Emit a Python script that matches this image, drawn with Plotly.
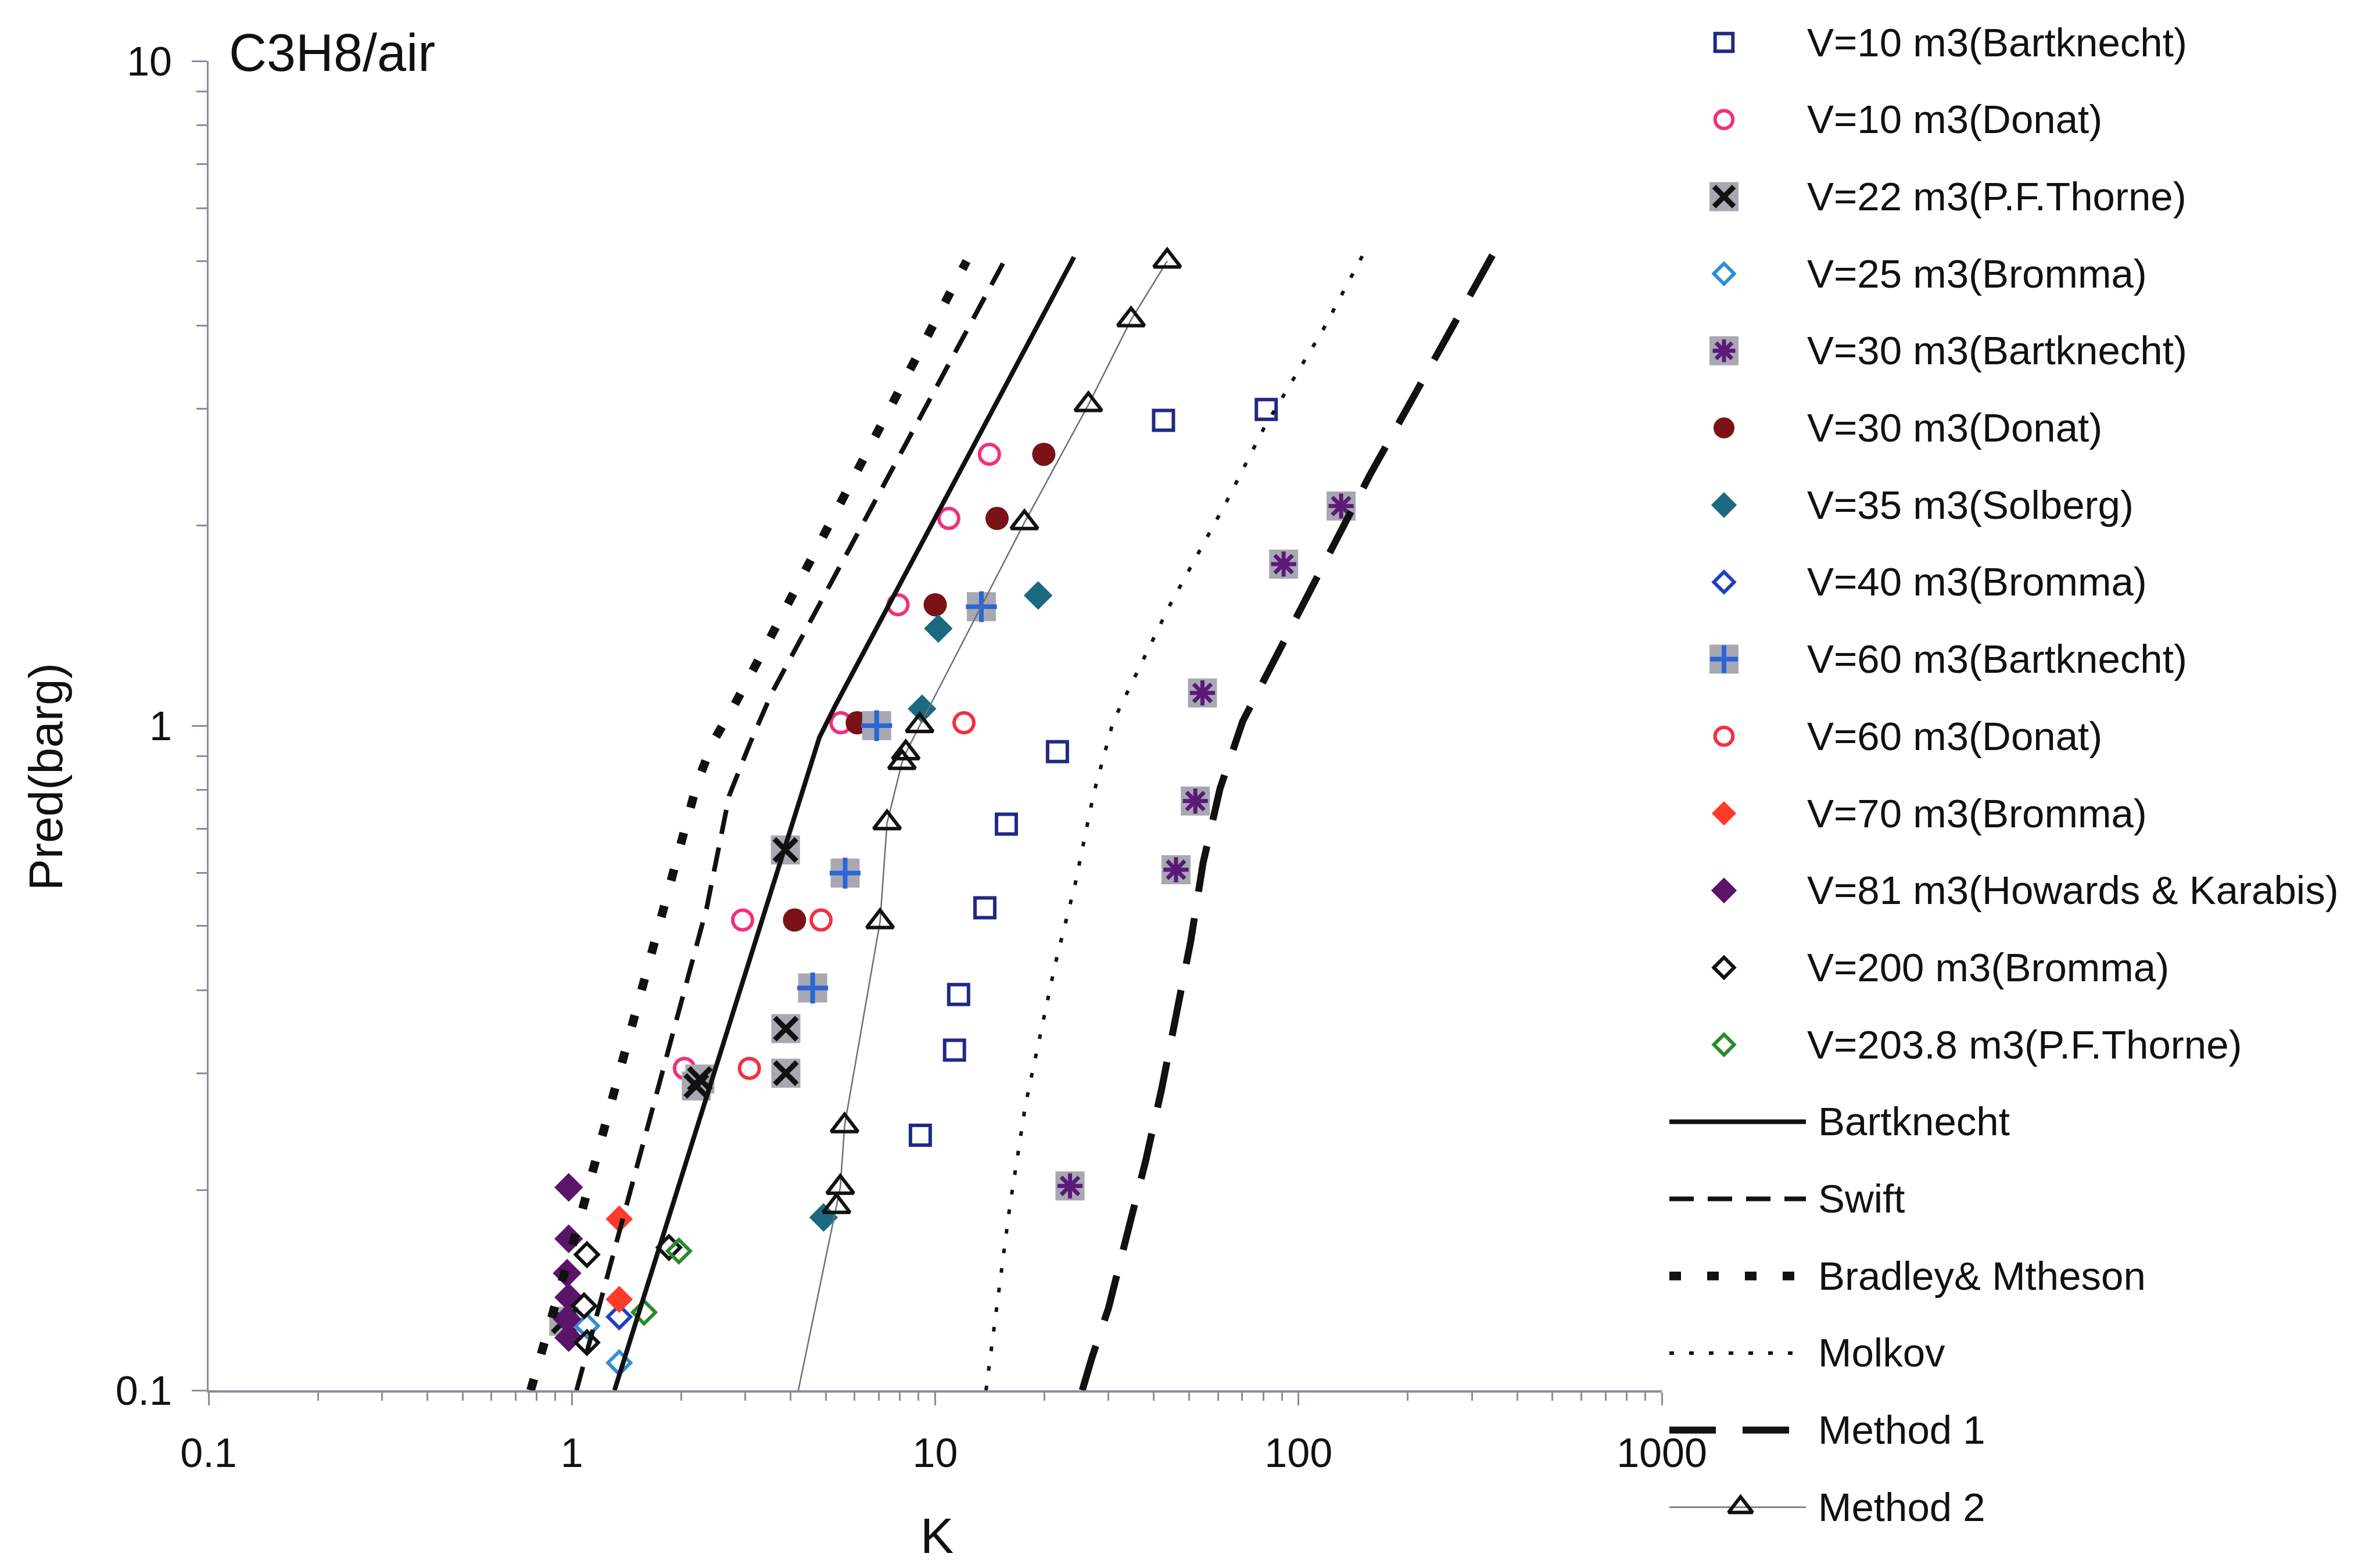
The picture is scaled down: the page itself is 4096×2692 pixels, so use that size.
import plotly.graph_objects as go

# ---------------- measured data: vent parameter K vs. reduced pressure Pred (barg) ----------------
series_names = [
    "V=10 m3(Bartknecht)", "V=10 m3(Donat)", "V=22 m3(P.F.Thorne)", "V=25 m3(Bromma)",
    "V=30 m3(Bartknecht)", "V=30 m3(Donat)", "V=35 m3(Solberg)", "V=40 m3(Bromma)",
    "V=60 m3(Bartknecht)", "V=60 m3(Donat)", "V=70 m3(Bromma)",
    "V=81 m3(Howards & Karabis)", "V=200 m3(Bromma)", "V=203.8 m3(P.F.Thorne)",
]
curve_names = ["Bartknecht", "Swift", "Bradley& Mtheson", "Molkov", "Method 1", "Method 2"]

v10_bartknecht_k = [42.5, 81.5, 21.7, 15.7, 13.7, 11.6, 11.3, 9.1]
v10_bartknecht_p = [2.88, 2.99, 0.914, 0.711, 0.532, 0.394, 0.325, 0.242]

v10_donat_k = [14.1, 10.9, 7.9, 5.5, 2.95, 2.04]
v10_donat_p = [2.56, 2.05, 1.52, 1.01, 0.51, 0.305]

v22_thorne_k = [3.87, 3.88, 3.88, 2.25, 2.2, 0.95]
v22_thorne_p = [0.65, 0.35, 0.30, 0.294, 0.287, 0.127]

v25_bromma_k = [1.1, 1.35]
v25_bromma_p = [0.125, 0.110]

v30_bartknecht_k = [131, 91, 54.4, 52, 46, 23.5]
v30_bartknecht_p = [2.14, 1.75, 1.12, 0.77, 0.607, 0.203]

v30_donat_k = [19.9, 14.8, 10.0, 6.1, 4.1]
v30_donat_p = [2.56, 2.05, 1.52, 1.01, 0.51]

v35_solberg_k = [19.2, 10.2, 9.2, 4.93]
v35_solberg_p = [1.57, 1.40, 1.06, 0.182]

v40_bromma_k = [1.35]
v40_bromma_p = [0.129]

v60_bartknecht_k = [13.4, 6.9, 5.65, 4.6]
v60_bartknecht_p = [1.51, 1.0, 0.60, 0.403]

v60_donat_k = [12.0, 4.85, 3.08]
v60_donat_p = [1.01, 0.51, 0.305]

v70_bromma_k = [1.35, 1.35]
v70_bromma_p = [0.181, 0.137]

v81_hk_k = [0.98, 0.98, 0.97, 0.98, 0.97, 0.98]
v81_hk_p = [0.202, 0.169, 0.150, 0.138, 0.128, 0.120]

v200_bromma_k = [1.1, 1.08, 1.1, 1.85]
v200_bromma_p = [0.160, 0.134, 0.118, 0.164]

v2038_thorne_k = [1.97, 1.58]
v2038_thorne_p = [0.162, 0.131]

# correlation curves
bartknecht_k = [1.31, 4.8, 5.3, 24.1]
bartknecht_p = [0.1, 0.96, 1.07, 5.07]

swift_k = [1.03, 1.83, 2.35, 2.71, 3.09, 3.55, 15.7]
swift_p = [0.1, 0.321, 0.532, 0.785, 0.94, 1.12, 5.07]

bradley_k = [0.77, 1.04, 1.81, 2.21, 2.44, 2.79, 3.55, 12.2]
bradley_p = [0.1, 0.177, 0.544, 0.819, 0.943, 1.07, 1.37, 5.0]

molkov_k = [13.8, 15.1, 16.0, 17.7, 19.7, 21.4, 24.3, 27.3, 30.9, 44.0, 63.3, 80.5, 116.8, 151]
molkov_p = [0.1, 0.145, 0.187, 0.268, 0.355, 0.438, 0.579, 0.79, 1.015, 1.51, 2.17, 2.81, 3.94, 5.13]

method1_k = [25.4, 27.0, 30.0, 33.9, 38.0, 42.0, 46.3, 50.5, 54.6, 60.8, 70.2, 90.3, 108, 129, 157, 345]
method1_p = [0.1, 0.112, 0.133, 0.173, 0.222, 0.284, 0.372, 0.474, 0.621, 0.804, 1.015, 1.33, 1.6, 1.95, 2.38, 5.15]

# first point is the foot of the curve; triangles mark the remaining points
method2_k = [4.2, 5.35, 5.48, 5.63, 7.05, 7.37, 8.1, 8.3, 9.06, 17.6, 26.4, 34.6, 43.5]
method2_p = [0.1, 0.189, 0.202, 0.250, 0.507, 0.714, 0.88, 0.91, 1.0, 2.02, 3.04, 4.08, 5.0]

x_tick_vals = [0.1, 1, 10, 100, 1000]
x_tick_text = ["0.1", "1", "10", "100", "1000"]
y_tick_vals = [0.1, 1, 10]
y_tick_text = ["0.1", "1", "10"]

# ---------------- geometry & styling ----------------
W, H = 4096, 2692
PLOT_L, PLOT_R, PLOT_T, PLOT_B = 359, 2860, 105, 2393
FONT = "Liberation Sans, Arial, Helvetica, sans-serif"
INK = "#111111"
AXIS_GREY = "#8c8c9a"
GREY_BOX = "#a8a8b2"

marker_data = [
    (v10_bartknecht_k, v10_bartknecht_p),
    (v10_donat_k, v10_donat_p),
    (v22_thorne_k, v22_thorne_p),
    (v25_bromma_k, v25_bromma_p),
    (v30_bartknecht_k, v30_bartknecht_p),
    (v30_donat_k, v30_donat_p),
    (v35_solberg_k, v35_solberg_p),
    (v40_bromma_k, v40_bromma_p),
    (v60_bartknecht_k, v60_bartknecht_p),
    (v60_donat_k, v60_donat_p),
    (v70_bromma_k, v70_bromma_p),
    (v81_hk_k, v81_hk_p),
    (v200_bromma_k, v200_bromma_p),
    (v2038_thorne_k, v2038_thorne_p),
]

# box=True draws a grey square behind the symbol
marker_styles = [
    dict(symbol="square-open", size=34, color="#1f2a86", lw=6),
    dict(symbol="circle-open", size=34, color="#f2307c", lw=6),
    dict(symbol="x-thin-open", size=38, color="#111111", lw=9, box=True),
    dict(symbol="diamond-open", size=30, color="#2f8fd2", lw=6),
    dict(symbol="asterisk-open", size=36, color="#5b1a78", lw=7, box=True),
    dict(symbol="circle", size=40, color="#7a1216", lw=0),
    dict(symbol="diamond", size=38, color="#1b6a80", lw=0),
    dict(symbol="diamond-open", size=30, color="#1f3fc0", lw=6),
    dict(symbol="cross-thin-open", size=38, color="#2a66d6", lw=8, box=True),
    dict(symbol="circle-open", size=34, color="#f23040", lw=6),
    dict(symbol="diamond", size=36, color="#ff3b2c", lw=0),
    dict(symbol="diamond", size=38, color="#5a1468", lw=0),
    dict(symbol="diamond-open", size=30, color="#111111", lw=6),
    dict(symbol="diamond-open", size=30, color="#2a8a2a", lw=6),
]

curve_data = [
    (bartknecht_k, bartknecht_p),
    (swift_k, swift_p),
    (bradley_k, bradley_p),
    (molkov_k, molkov_p),
    (method1_k, method1_p),
    (method2_k, method2_p),
]
curve_styles = [
    dict(color="#111111", width=8, dash="solid"),
    dict(color="#111111", width=8, dash="42px,24px"),
    dict(color="#111111", width=15, dash="20px,45px"),
    dict(color="#111111", width=6, dash="8px,26px"),
    dict(color="#111111", width=12, dash="80px,46px"),
    dict(color="#6e6e78", width=2.5, dash="solid"),
]
TRIANGLE = dict(symbol="triangle-up-open", size=40, color="#111111", line=dict(width=6, color="#111111"))
BOX_SIZE = 50


def marker_traces(k, p, st, xaxis="x", yaxis="y"):
    out = []
    if st.get("box"):
        out.append(go.Scatter(x=k, y=p, mode="markers", xaxis=xaxis, yaxis=yaxis,
                              marker=dict(symbol="square", size=BOX_SIZE, color=GREY_BOX,
                                          line=dict(width=0)),
                              showlegend=False, hoverinfo="skip"))
    out.append(go.Scatter(x=k, y=p, mode="markers", xaxis=xaxis, yaxis=yaxis,
                          marker=dict(symbol=st["symbol"], size=st["size"], color=st["color"],
                                      line=dict(width=st["lw"], color=st["color"])),
                          showlegend=False))
    return out


fig = go.Figure()

# measured points
for name, (k, p), st in zip(series_names, marker_data, marker_styles):
    for tr in marker_traces(k, p, st):
        tr.name = name
        fig.add_trace(tr)

# correlation curves
for name, (k, p), st in zip(curve_names, curve_data, curve_styles):
    fig.add_trace(go.Scatter(x=k, y=p, mode="lines", name=name, showlegend=False,
                             line=dict(color=st["color"], width=st["width"], dash=st["dash"])))
fig.add_trace(go.Scatter(x=method2_k[1:], y=method2_p[1:], mode="markers", name="Method 2",
                         showlegend=False, marker=TRIANGLE))

# ---------------- key panel on an auxiliary pixel-scaled axis ----------------
LEG_ROW0, LEG_STEP = 73, 132.7
LEG_MARK_X = 2967
LEG_LINE_X0, LEG_LINE_X1 = 2873, 3108
LEG_TEXT_X_MARK, LEG_TEXT_X_LINE = 3108, 3127
LEG_FONT = 69

annotations = []
for i, (name, st) in enumerate(zip(series_names, marker_styles)):
    yy = LEG_ROW0 + LEG_STEP * i
    key_st = dict(st, size=st["size"] * 0.9)
    for tr in marker_traces([LEG_MARK_X], [yy], key_st, "x2", "y2"):
        fig.add_trace(tr)
    annotations.append(dict(x=LEG_TEXT_X_MARK, y=yy, xref="x2", yref="y2", text=name,
                            showarrow=False, xanchor="left", yanchor="middle",
                            font=dict(family=FONT, size=LEG_FONT, color=INK)))

for j, (name, st) in enumerate(zip(curve_names, curve_styles)):
    yy = LEG_ROW0 + LEG_STEP * (len(series_names) + j)
    fig.add_trace(go.Scatter(x=[LEG_LINE_X0, LEG_LINE_X1], y=[yy, yy], mode="lines",
                             xaxis="x2", yaxis="y2", showlegend=False, hoverinfo="skip",
                             line=dict(color=st["color"], width=st["width"], dash=st["dash"])))
    if name == "Method 2":
        fig.add_trace(go.Scatter(x=[(LEG_LINE_X0 + LEG_LINE_X1) / 2 + 5], y=[yy], mode="markers",
                                 xaxis="x2", yaxis="y2", showlegend=False, hoverinfo="skip",
                                 marker=dict(TRIANGLE, size=36)))
    annotations.append(dict(x=LEG_TEXT_X_LINE, y=yy, xref="x2", yref="y2", text=name,
                            showarrow=False, xanchor="left", yanchor="middle",
                            font=dict(family=FONT, size=LEG_FONT, color=INK)))

# chart label and axis titles
annotations.append(dict(x=392 / W, y=1 - 91 / H, xref="paper", yref="paper", text="C3H8/air",
                        showarrow=False, xanchor="left", yanchor="middle",
                        font=dict(family=FONT, size=90, color=INK)))
annotations.append(dict(x=1612 / W, y=1 - 2643 / H, xref="paper", yref="paper", text="K",
                        showarrow=False, xanchor="center", yanchor="middle",
                        font=dict(family=FONT, size=86, color=INK)))
annotations.append(dict(x=78 / W, y=1 - 1337 / H, xref="paper", yref="paper", text="Pred(barg)",
                        showarrow=False, xanchor="center", yanchor="middle", textangle=-90,
                        font=dict(family=FONT, size=82, color=INK)))

minor_x = [m * 10 ** e for e in (-1, 0, 1, 2) for m in range(2, 10)]
minor_y = [m * 10 ** e for e in (-1, 0) for m in range(2, 10)]

axis_common = dict(type="log", showgrid=False, zeroline=False, showline=True, automargin=False,
                   linecolor=AXIS_GREY, ticks="outside", tickcolor=AXIS_GREY, tickwidth=3,
                   tickfont=dict(family=FONT, size=70, color=INK), tickmode="array")

fig.update_layout(
    template="none",
    width=W, height=H, autosize=False,
    margin=dict(l=0, r=0, t=0, b=0, pad=0, autoexpand=False),
    paper_bgcolor="white", plot_bgcolor="rgba(0,0,0,0)",
    showlegend=False,
    font=dict(family=FONT, color=INK),
    xaxis=dict(axis_common, domain=[PLOT_L / W, PLOT_R / W], range=[-1, 3],
               tickvals=x_tick_vals, ticktext=x_tick_text, ticklen=22, linewidth=4,
               ticklabelstandoff=22,
               minor=dict(tickvals=minor_x, ticks="outside", ticklen=14, tickcolor=AXIS_GREY,
                          tickwidth=3, showgrid=False)),
    yaxis=dict(axis_common, domain=[1 - PLOT_B / H, 1 - PLOT_T / H], range=[-1, 1],
               tickvals=y_tick_vals, ticktext=y_tick_text, ticklen=26, linewidth=3,
               ticklabelstandoff=20,
               minor=dict(tickvals=minor_y, ticks="outside", ticklen=18, tickcolor=AXIS_GREY,
                          tickwidth=3, showgrid=False)),
    xaxis2=dict(domain=[2800 / W, 1.0], range=[2800, W], visible=False, fixedrange=True,
                automargin=False, anchor="y2"),
    yaxis2=dict(domain=[0, 1], range=[H, 0], visible=False, fixedrange=True, anchor="x2",
                automargin=False),
    annotations=annotations,
)

fig.write_html("out.html")
